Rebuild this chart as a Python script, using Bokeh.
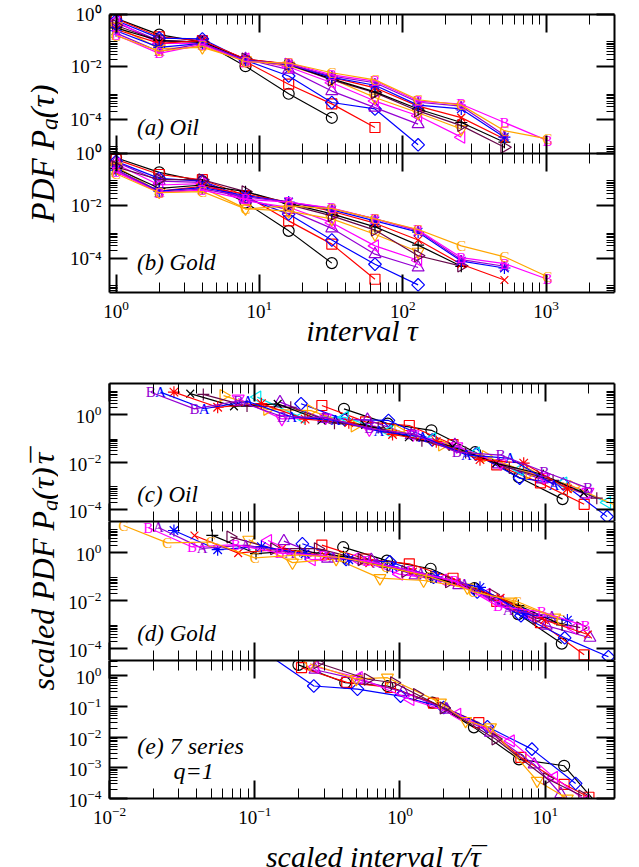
import math
from bokeh.plotting import figure
from bokeh.models import LogAxis, FixedTicker, Range1d, Label, ColumnDataSource, LogScale
from bokeh.layouts import column, row
from bokeh.embed import file_html
from bokeh.resources import INLINE
from bokeh.core.properties import value

FONT = "Liberation Serif"

# ---------------- data ----------------
tau = [1, 2, 4, 8, 16, 32, 64, 128, 256, 512, 1024]

symbols = ["circle", "square", "diamond", "tri_up", "tri_left", "tri_down", "tri_right",
           "plus", "cross", "star", "A", "B", "C"]
colors_main = ["#000000", "#ff0000", "#0000ff", "#9400d3", "#ff00ff", "#ffa500", "#67074a",
               "#000000", "#ff0000", "#0000ff", "#9400d3", "#ff00ff", "#ffa500"]
colors_oil_scaled = ["#000000", "#ff0000", "#0000ff", "#9400d3", "#00e5ee", "#ff00ff",
                     "#ffa500", "#67074a", "#000000", "#ff0000", "#0000ff", "#9400d3"]

# (a) Oil, P_q(tau)
oil_s01 = [0.71, 0.17, 0.089, 0.0107, 9.5e-4, 1.15e-4]
oil_s02 = [0.69, 0.141, 0.1, 0.0158, 2.2e-3, 3.9e-4, 4.9e-5]
oil_s03 = [0.59, 0.126, 0.117, 0.0178, 4.5e-3, 4.4e-4, 2.5e-4, 1.07e-5]
oil_s04 = [0.49, 0.1, 0.089, 0.02, 7.9e-3, 1.2e-3, 2.8e-4, 6.6e-5]
oil_s05 = [0.56, 0.079, 0.079, 0.02, 0.01, 2.5e-3, 5e-4, 1.38e-4, 2.1e-5]
oil_s06 = [0.355, 0.05, 0.056, 0.0178, 0.0112, 3.5e-3, 6.8e-4, 1.8e-4, 4.3e-5]
oil_s07 = [0.38, 0.1, 0.089, 0.02, 0.0126, 3.2e-3, 1.05e-3, 2.1e-4, 5.8e-5, 8.7e-6]
oil_s08 = [0.309, 0.1, 0.089, 0.019, 0.0126, 3.5e-3, 1.12e-3, 2.5e-4, 7.6e-5, 1.35e-5]
oil_s09 = [0.269, 0.079, 0.1, 0.02, 0.0132, 4e-3, 1.6e-3, 3.2e-4, 1.17e-4, 1.8e-5]
oil_s10 = [0.24, 0.056, 0.079, 0.0178, 0.0126, 4e-3, 2e-3, 3.5e-4, 2.5e-4, 2.1e-5]
oil_s11 = [0.195, 0.039, 0.079, 0.0178, 0.0126, 4.5e-3, 2.5e-3, 4.5e-4, 3.2e-4, 2.5e-5]
oil_s12 = [0.166, 0.033, 0.071, 0.0158, 0.0141, 5e-3, 2.9e-3, 5e-4, 3.8e-4, 7.6e-5, 1.55e-5]
oil_s13 = [0.158, 0.04, 0.063, 0.0158, 0.0141, 6e-3, 3.2e-3, 5.6e-4, 3.5e-4, 3.7e-5, 1.8e-5]

# (b) Gold, P_q(tau)
gold_s01 = [0.69, 0.19, 0.087, 0.0135, 1.12e-3, 6.6e-5]
gold_s02 = [0.6, 0.158, 0.1, 0.025, 2.7e-3, 3.5e-4, 1.6e-5]
gold_s03 = [0.5, 0.112, 0.089, 0.02, 4.9e-3, 5e-4, 6e-5, 9.8e-6]
gold_s04 = [0.48, 0.089, 0.079, 0.0178, 7.1e-3, 1.4e-3, 1.45e-4, 4.5e-5]
gold_s05 = [0.4, 0.063, 0.071, 0.0158, 8.9e-3, 2.3e-3, 3e-4, 8.5e-5]
gold_s06 = [0.316, 0.035, 0.05, 7.9e-3, 6.3e-3, 3.2e-3, 8.3e-4, 1.8e-4]
gold_s07 = [0.309, 0.1, 0.1, 0.035, 0.0112, 4.2e-3, 1.2e-3, 1.26e-4, 5.1e-5]
gold_s08 = [0.269, 0.047, 0.063, 0.035, 0.0126, 5e-3, 1.6e-3, 3.2e-4, 5e-5]
gold_s09 = [0.2, 0.037, 0.056, 0.028, 0.0141, 6.3e-3, 2.2e-3, 5e-4, 6e-5, 1.5e-5]
gold_s10 = [0.234, 0.037, 0.05, 0.025, 0.0141, 7.1e-3, 2.7e-3, 1e-3, 7.9e-5, 4.3e-5]
gold_s11 = [0.245, 0.033, 0.045, 0.022, 0.0141, 7.9e-3, 3.2e-3, 1.12e-3, 8.9e-5, 5e-5]
gold_s12 = [0.204, 0.032, 0.04, 0.0178, 0.0141, 8.3e-3, 3.2e-3, 1.2e-3, 1.07e-4, 6.3e-5, 1.6e-5]
gold_s13 = [0.17, 0.032, 0.035, 7.6e-3, 0.01, 7.9e-3, 3.2e-3, 1.26e-3, 3e-4, 1.15e-4, 2e-5]

# mean intervals tau-bar used for the scaled panels (c), (d)
oil_taubar = [2.43, 3.45, 4.8, 6.7, 9.6, 13, 16.4, 22.6, 27.8, 36, 44.6, 52]
gold_taubar = [2.46, 3.45, 4.7, 6.3, 8.1, 11, 14.7, 19.6, 26, 36, 46, 54, 80]

oil_series = [oil_s01, oil_s02, oil_s03, oil_s04, oil_s05, oil_s06, oil_s07,
              oil_s08, oil_s09, oil_s10, oil_s11, oil_s12, oil_s13]
gold_series = [gold_s01, gold_s02, gold_s03, gold_s04, gold_s05, gold_s06, gold_s07,
               gold_s08, gold_s09, gold_s10, gold_s11, gold_s12, gold_s13]

# (e) seven series, q = 1 (scaled)
e_symbols = ["circle", "square", "diamond", "tri_up", "tri_left", "tri_down", "tri_right"]
e_colors = ["#000000", "#ff0000", "#0000ff", "#9400d3", "#ff00ff", "#ffa500", "#67074a"]
e_circle_x = [0.2, 0.42, 0.82, 1.67, 3.23, 6.6, 13.5, 25]
e_circle_y = [2.3, 0.6, 0.47, 0.135, 0.021, 1.9e-3, 1.17e-3, 4e-5]
e_square_x = [0.21, 0.43, 0.86, 1.7, 3.49, 6.8, 13.5, 20]
e_square_y = [1.86, 0.62, 0.42, 0.13, 0.03, 2.2e-3, 2.9e-4, 1.1e-4]
e_diamond_x = [0.12, 0.255, 0.51, 1.01, 2.0, 4.0, 8.1, 16.2]
e_diamond_y = [5.5, 0.47, 0.37, 0.22, 0.093, 0.022, 4.1e-3, 3.1e-4]
e_triup_x = [0.26, 0.53, 1.05, 2.1, 4.2, 8.4, 12.8]
e_triup_y = [1.6, 0.75, 0.3, 0.08, 0.014, 1.3e-3, 1.4e-4]
e_trileft_x = [0.26, 0.52, 1.18, 2.48, 5.8, 11.5, 19]
e_trileft_y = [2.0, 0.89, 0.17, 0.056, 7.6e-3, 4.9e-4, 8.5e-5]
e_tridown_x = [0.24, 0.5, 0.82, 1.9, 2.83, 4.2, 8.8, 14.2]
e_tridown_y = [2.5, 0.8, 0.88, 0.135, 0.034, 0.021, 3.8e-4, 1e-4]
e_triright_x = [0.27, 0.6, 0.91, 1.31, 2.0, 4.55, 10.3, 18]
e_triright_y = [2.7, 0.78, 0.6, 0.25, 0.09, 8.7e-3, 4.4e-4, 1.2e-4]
e_xs = [e_circle_x, e_square_x, e_diamond_x, e_triup_x, e_trileft_x, e_tridown_x, e_triright_x]
e_ys = [e_circle_y, e_square_y, e_diamond_y, e_triup_y, e_trileft_y, e_tridown_y, e_triright_y]

# tick labels of the stacked (a)/(b) axis
ab_tick_labels = ["10\u2070", "10\u207b\u00b2", "10\u207b\u2074"]

# ---------------- styling helpers ----------------
MARK = {
    "circle": ("circle", 11, 0.0),
    "square": ("square", 10, 0.0),
    "diamond": ("square", 9, math.pi / 4),
    "tri_up": ("triangle", 12, 0.0),
    "tri_left": ("triangle", 12, math.pi / 2),
    "tri_down": ("inverted_triangle", 12, 0.0),
    "tri_right": ("triangle", 12, -math.pi / 2),
    "plus": ("cross", 12, 0.0),
    "cross": ("x", 11, 0.0),
    "star": ("asterisk", 12, 0.0),
}


def draw(p, xs, ys, sym, color, yname="default"):
    src = ColumnDataSource(dict(x=list(xs), y=list(ys), t=[sym] * len(xs)))
    p.line("x", "y", source=src, line_color=color, line_width=1.2, y_range_name=yname)
    if sym in ("A", "B", "C"):
        p.text("x", "y", text="t", source=src, text_color=color, text_font=value(FONT),
               text_font_size="15px", text_align="center", text_baseline="middle",
               y_range_name=yname)
    else:
        m, s, a = MARK[sym]
        p.scatter("x", "y", source=src, marker=m, size=s, angle=a, fill_color=None,
                  line_color=color, line_width=1.2, y_range_name=yname)


def style_axis(ax, ticker, minor_len, labels, out=False):
    ax.ticker = ticker
    ax.axis_line_width = 2
    ax.axis_line_color = "black"
    ax.major_tick_in = 18
    ax.major_tick_out = 18 if out else 0
    ax.minor_tick_in = minor_len
    ax.minor_tick_out = minor_len if out else 0
    ax.major_tick_line_width = 2
    ax.minor_tick_line_width = 1
    ax.major_tick_line_color = "black"
    ax.minor_tick_line_color = "black"
    ax.axis_label = None
    if labels:
        ax.major_label_text_font = FONT
        ax.major_label_text_font_size = "19px"
        ax.major_label_text_color = "black"
        ax.major_label_standoff = 8
    else:
        ax.major_label_text_font_size = "0px"
        ax.major_label_standoff = 0
        ax.major_label_text_color = None


def log_minor(lo_exp, hi_exp, lo, hi, mults=range(2, 10)):
    out = []
    for e in range(lo_exp, hi_exp + 1):
        for m in mults:
            v = m * 10.0 ** e
            if lo < v < hi:
                out.append(v)
    return out


def base_fig(xr, yr, fh, top, bottom):
    p = figure(x_axis_type="log", y_axis_type="log", x_range=xr, y_range=yr,
               frame_width=505, frame_height=fh, min_border_left=51, min_border_right=10,
               min_border_top=top, min_border_bottom=bottom,
               toolbar_location=None, output_backend="svg")
    p.add_layout(LogAxis(), "above")
    p.add_layout(LogAxis(), "right")
    p.xgrid.visible = False
    p.ygrid.visible = False
    p.outline_line_color = None
    return p


def make_panel(xr, yr, fh, xmaj, xmin, ymaj, ymin, xlabels, top, bottom):
    p = base_fig(xr, yr, fh, top, bottom)
    for ax in p.below:
        style_axis(ax, FixedTicker(ticks=xmaj, minor_ticks=xmin), 10, xlabels)
    for ax in p.above:
        style_axis(ax, FixedTicker(ticks=xmaj, minor_ticks=xmin), 10, False)
    for ax in p.left:
        style_axis(ax, FixedTicker(ticks=ymaj, minor_ticks=ymin), 8, True)
    for ax in p.right:
        style_axis(ax, FixedTicker(ticks=ymaj, minor_ticks=ymin), 8, False)
    return p


def tag(p, x, y, text, size="23px", yname="default"):
    p.add_layout(Label(x=x, y=y, text=text, text_font=FONT, text_font_style="italic",
                       text_font_size=size, text_color="black", y_range_name=yname,
                       text_align="left", text_baseline="alphabetic"))


# ---------------- top plot: (a) above, (b) below, one frame ----------------
TX = (0.9, 3000)
TY = (5e-6, 1)                     # range of each of (a) and (b)
ratio = TY[0] / TY[1]
top_xmaj = [1, 10, 100, 1000]
top_xmin = log_minor(0, 3, *TX)
ab_major = [1, 1e-2, 1e-4]
ab_minor = [m * 10.0 ** e for e in (-2, -4, -6) for m in range(2, 10) if TY[0] < m * 10.0 ** e < TY[1]]

# default y range: (a) occupies the upper half; extra "gold" range: (b) occupies the lower half
ptop = base_fig(Range1d(*TX), Range1d(TY[0] * ratio, TY[1]), 278, 14, 70)
ptop.extra_y_ranges = {"gold": Range1d(TY[0], TY[1] / ratio)}
ptop.extra_y_scales = {"gold": LogScale()}

y_ticks = ab_major + [v * ratio for v in ab_major]
y_minor = ab_minor + [v * ratio for v in ab_minor]
for ax in ptop.left:
    style_axis(ax, FixedTicker(ticks=y_ticks, minor_ticks=y_minor), 8, True)
    ax.major_label_overrides = {t: s for t, s in zip(y_ticks, ab_tick_labels * 2)}
for ax in ptop.right:
    style_axis(ax, FixedTicker(ticks=y_ticks, minor_ticks=y_minor), 8, False)
for ax in ptop.above:
    style_axis(ax, FixedTicker(ticks=top_xmaj, minor_ticks=top_xmin), 10, False)
xb = ptop.below[0]
style_axis(xb, FixedTicker(ticks=top_xmaj, minor_ticks=top_xmin), 10, True)
xb.axis_label = "interval \u03c4"
xb.axis_label_text_font = FONT
xb.axis_label_text_font_style = "italic"
xb.axis_label_text_font_size = "30px"
xb.axis_label_text_color = "black"
xb.axis_label_standoff = -7

mid = LogAxis(fixed_location=TY[0])
ptop.add_layout(mid, "below")
style_axis(mid, FixedTicker(ticks=top_xmaj, minor_ticks=top_xmin), 10, False, out=True)

for k, ys in enumerate(oil_series):
    draw(ptop, tau[:len(ys)], ys, symbols[k], colors_main[k])
for k, ys in enumerate(gold_series):
    draw(ptop, tau[:len(ys)], ys, symbols[k], colors_main[k], "gold")

tag(ptop, 1.4, 4.8e-5, "(a) Oil")
tag(ptop, 1.4, 6.8e-5, "(b) Gold", yname="gold")

# ---------------- bottom plot (c), (d), (e) ----------------
BX = (0.01, 30)
SY = (3.2e-5, 20)
EY = (1e-4, 3.2)
bot_xmaj = [0.01, 0.1, 1, 10]
bot_xmin = log_minor(-2, 1, *BX)
s_ymaj = [1, 1e-2, 1e-4]
s_ymin = [m * 10.0 ** e for e in (0, -2, -4) for m in range(2, 10) if SY[0] < m * 10.0 ** e < SY[1]]
e_ymaj = [1, 0.1, 0.01, 1e-3, 1e-4]
e_ymin = log_minor(-4, 0, *EY)

pc = make_panel(Range1d(*BX), Range1d(*SY), 138, bot_xmaj, bot_xmin, s_ymaj, s_ymin,
                False, 21, 0)
pd_ = make_panel(Range1d(*BX), Range1d(*SY), 139, bot_xmaj, bot_xmin, s_ymaj, s_ymin,
                 False, 0, 0)
pe = make_panel(Range1d(*BX), Range1d(*EY), 138, bot_xmaj, bot_xmin, e_ymaj, e_ymin,
                True, 0, 36)

for k, (ys, tb) in enumerate(zip(oil_series, oil_taubar)):
    xs = [t / tb for t in tau[:len(ys)]]
    yy = [v * tb for v in ys]
    draw(pc, xs, yy, symbols[k], colors_oil_scaled[k])

for k, (ys, tb) in enumerate(zip(gold_series, gold_taubar)):
    xs = [t / tb for t in tau[:len(ys)]]
    yy = [v * tb for v in ys]
    draw(pd_, xs, yy, symbols[k], colors_main[k])

for k in range(7):
    draw(pe, e_xs[k], e_ys[k], e_symbols[k], e_colors[k])

tag(pc, 0.0155, 4.3e-4, "(c) Oil")
tag(pd_, 0.0155, 4.4e-4, "(d) Gold")
tag(pe, 0.0155, 5.2e-3, "(e) 7 series", "24px")
tag(pe, 0.0276, 8.1e-4, "q=1", "24px")

# strip below (e) holding its x-axis title (pixel coordinates of the strip)
SW, SH = 566, 33
strip = figure(width=SW, height=SH, x_range=Range1d(0, SW), y_range=Range1d(SH, 0),
               min_border=0, toolbar_location=None, output_backend="svg",
               x_axis_type=None, y_axis_type=None)
strip.outline_line_color = None
strip.xgrid.visible = False
strip.ygrid.visible = False


def stext(x, text, align):
    strip.add_layout(Label(x=x, y=22, text=text, text_font=FONT, text_font_style="italic",
                           text_font_size="30px", text_color="black",
                           text_align=align, text_baseline="alphabetic"))


stext(404, "scaled interval \u03c4/", "right")
stext(404, "\u03c4", "left")
stext(412, "\u00af", "center")

# ---------------- rotated y labels ----------------
H = 867
lab = figure(width=58, height=H, x_range=Range1d(0, 58), y_range=Range1d(H, 0),
             min_border=0, toolbar_location=None, output_backend="svg",
             x_axis_type=None, y_axis_type=None)
lab.outline_line_color = None
lab.xgrid.visible = False
lab.ygrid.visible = False


def vtext(x, y, text, size, align="left"):
    lab.add_layout(Label(x=x, y=y, text=text, angle=math.pi / 2, text_font=FONT,
                         text_font_style="italic", text_font_size=size, text_color="black",
                         text_align=align, text_baseline="alphabetic"))


vtext(42, 222, "PDF P", "33px")
vtext(49, 129.4, "q", "23px")
vtext(42, 117.9, "(\u03c4)", "33px")

vtext(42, 690, "scaled PDF P", "32px")
vtext(49, 510.5, "q", "22px")
vtext(42, 499.5, "(\u03c4)", "32px")
vtext(42, 463.8, "\u03c4", "32px")
vtext(42, 456.5, "\u00af", "32px", "center")

layout = row(lab, column(ptop, pc, pd_, pe, strip))

open("out.html", "w").write(file_html(layout, INLINE))
